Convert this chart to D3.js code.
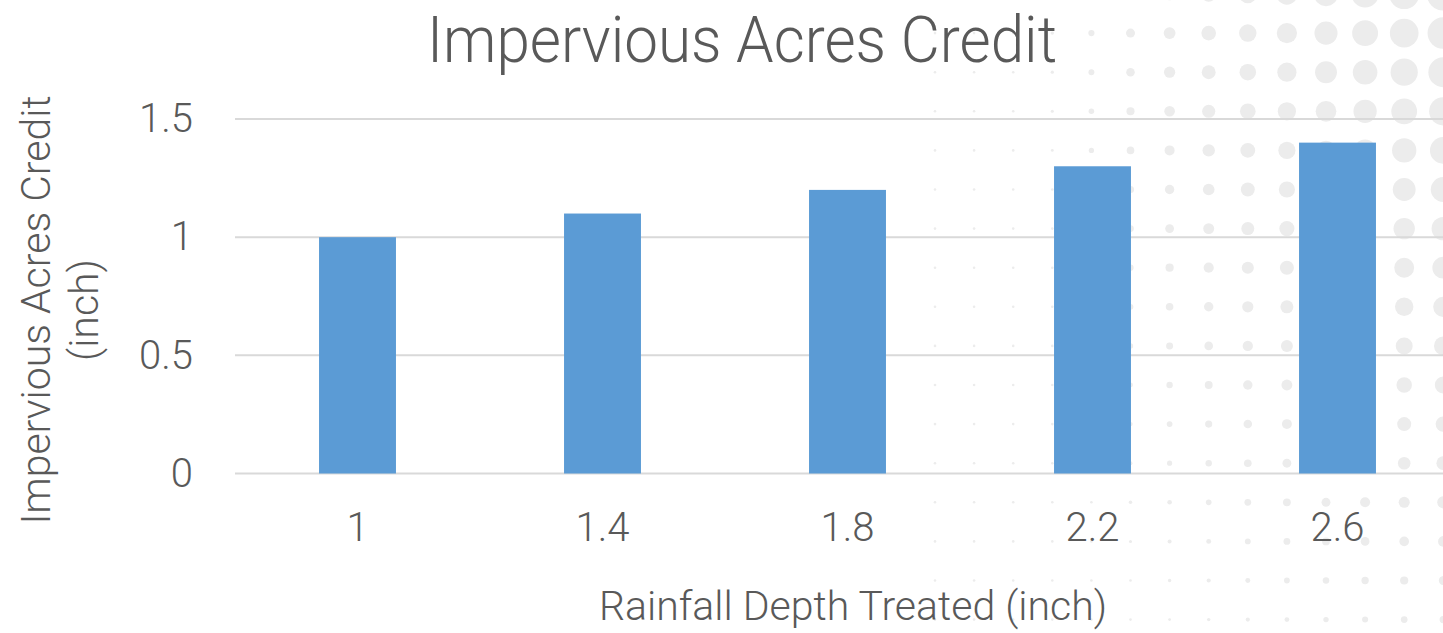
<!DOCTYPE html>
<html>
<head>
<meta charset="utf-8">
<script src="https://cdn.jsdelivr.net/npm/d3@7"></script>
<style>
  html, body { margin: 0; padding: 0; background: #fff; overflow: hidden; }
  svg { display: block; font-family: Roboto, "Open Sans", sans-serif; font-weight: 300; }
</style>
</head>
<body>
<div id="chart"></div>
<script>
const categories = ["1", "1.4", "1.8", "2.2", "2.6"];
const credits = [1, 1.1, 1.2, 1.3, 1.4];
const yTicks = [0, 0.5, 1, 1.5];
const chartTitle = "Impervious Acres Credit";
const xTitle = "Rainfall Depth Treated (inch)";
const yTitle = ["Impervious Acres Credit", "(inch)"];

const width = 1443, height = 633;
const textColor = "#595959";

const svg = d3.select("#chart").append("svg")
  .attr("width", width)
  .attr("height", height);

// decorative halftone dots in the background
const bg = svg.append("g");
for (let cx = 935; cx <= 1460; cx += 39.1) {
  for (let cy = -6; cy <= 640; cy += 39.1) {
    const r = Math.max(1, (cx - 1005) / 28) * Math.max(0.2, 1.05 - cy / 760);
    bg.append("circle")
      .attr("cx", cx).attr("cy", cy)
      .attr("r", Math.max(1.3, r))
      .attr("fill", "#ececec");
  }
}

const x = d3.scaleBand()
  .domain(categories)
  .range([235, 1460])
  .paddingInner(0.686)
  .paddingOuter(0.343);

const y = d3.scaleLinear()
  .domain([0, 1.5])
  .range([473.5, 119]);

// gridlines
svg.append("g")
  .selectAll("line")
  .data(yTicks)
  .join("line")
  .attr("x1", 235).attr("x2", width)
  .attr("y1", d => y(d)).attr("y2", d => y(d))
  .attr("stroke", "#d9d9d9")
  .attr("stroke-width", 2);

// bars
svg.append("g")
  .selectAll("rect")
  .data(credits)
  .join("rect")
  .attr("x", (d, i) => x(categories[i]))
  .attr("y", d => y(d))
  .attr("width", x.bandwidth())
  .attr("height", d => y(0) - y(d))
  .attr("fill", "#5b9bd5");

// y axis labels
const yAxis = svg.append("g")
  .attr("transform", "translate(193,0)")
  .call(d3.axisLeft(y).tickValues(yTicks).tickFormat(d3.format("")).tickSize(0).tickPadding(0));
yAxis.select(".domain").remove();
yAxis.selectAll("text")
  .attr("fill", textColor)
  .style("font-size", "40px")
  .style("font-family", "Roboto, sans-serif")
  .style("font-weight", 300);

// x axis labels
const xAxis = svg.append("g")
  .attr("transform", "translate(0,513)")
  .call(d3.axisBottom(x).tickSize(0).tickPadding(0));
xAxis.select(".domain").remove();
xAxis.selectAll("text")
  .attr("fill", textColor)
  .style("font-size", "40px")
  .style("font-family", "Roboto, sans-serif")
  .style("font-weight", 300);

// titles
svg.append("text")
  .attr("x", 742).attr("y", 62)
  .attr("text-anchor", "middle")
  .attr("fill", textColor)
  .style("font-size", "64px")
  .attr("textLength", 630)
  .attr("lengthAdjust", "spacingAndGlyphs")
  .text(chartTitle);

svg.append("text")
  .attr("x", 853).attr("y", 620)
  .attr("text-anchor", "middle")
  .attr("fill", textColor)
  .style("font-size", "41px")
  .text(xTitle);

svg.append("g")
  .attr("transform", "translate(50,310) rotate(-90)")
  .selectAll("text")
  .data(yTitle)
  .join("text")
  .attr("x", 0)
  .attr("y", (d, i) => i * 48)
  .attr("text-anchor", "middle")
  .attr("fill", textColor)
  .style("font-size", "41px")
  .text(d => d);
</script>
</body>
</html>
